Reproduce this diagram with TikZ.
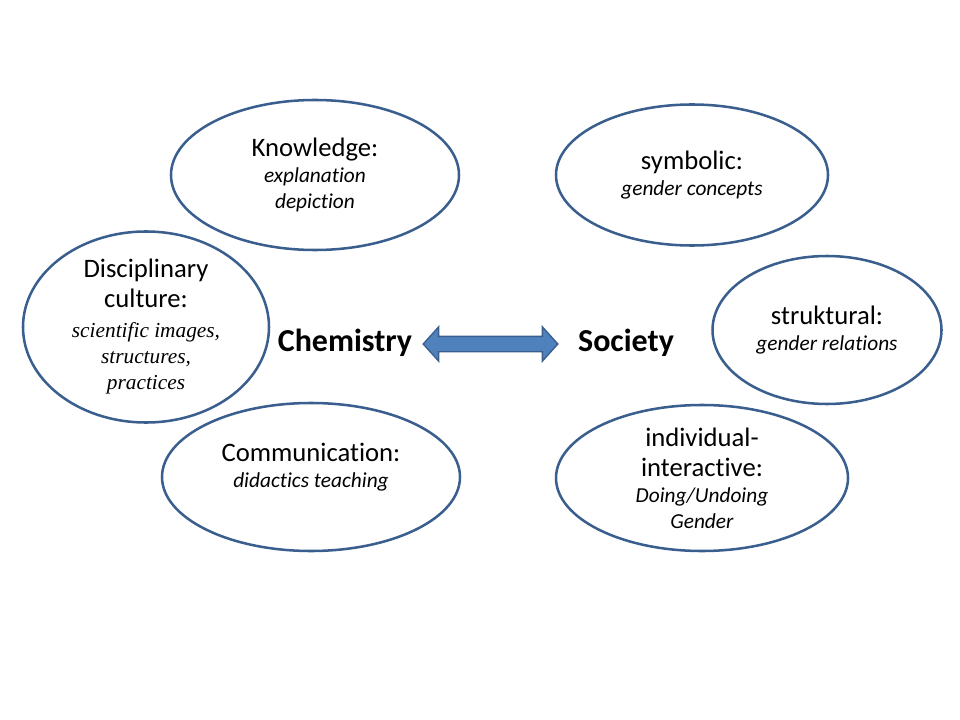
\documentclass[tikz,border=0pt]{standalone}
\usepackage{fontspec}
\setmainfont{Carlito}[Ligatures=NoCommon]
\newfontfamily\serifit{Liberation Serif}
\usepackage{xcolor}
\definecolor{ringblue}{HTML}{3A5F8E}
\definecolor{arrowblue}{HTML}{4F81BD}
\usetikzlibrary{shapes.geometric, shapes.arrows}
\newcommand\hd[1]{{\fontsize{20}{24}\selectfont #1}}
\newcommand\sr[1]{{\serifit\itshape\fontsize{16}{19}\selectfont #1}}

\begin{document}
\begin{tikzpicture}[
    x=0.75pt, y=-0.75pt,
    bubble/.style={
        ellipse, draw=ringblue, line width=1.9pt,
        inner sep=0pt, align=center,
        font=\fontsize{16}{19.5}\selectfont
    },
    big/.style={font=\fontsize{24}{29}\selectfont\bfseries}
]
    \useasboundingbox (0,0) rectangle (960,720);

    % chemistry side
    \node[bubble, minimum width=216pt, minimum height=112.5pt] (know) at (315,175)
        {\hd{Knowledge:}\\ \textit{explanation}\\ \textit{depiction}};
    \node[bubble, minimum width=184.5pt, minimum height=114.75pt] (disc) at (146,327)
        {\hd{Disciplinary}\\[3pt] \hd{culture:}\\[3pt] \sr{scientific images,}\\ \sr{structures,}\\ \sr{practices}};
    \node[bubble, minimum width=223.5pt, minimum height=111pt, text depth=18pt] (comm) at (311,477)
        {\hd{Communication:}\\ \textit{didactics teaching}};

    % society side
    \node[bubble, minimum width=204pt, minimum height=105.75pt] (symb) at (692,175)
        {\hd{symbolic:}\\ \textit{gender concepts}};
    \node[bubble, minimum width=171.75pt, minimum height=111pt] (strk) at (827,330)
        {\hd{struktural:}\\ \textit{gender relations}};
    \node[bubble, minimum width=219pt, minimum height=109.5pt] (indv) at (702,478)
        {\hd{individual-}\\[3pt] \hd{interactive:}\\ \textit{Doing/Undoing}\\ \textit{Gender}};

    \node[big] (chem) at (345,343) {Chemistry};
    \node[big] (soc) at (626,343) {Society};

    \node[double arrow, draw=ringblue, fill=arrowblue, line width=1pt,
          inner xsep=0pt, inner ysep=5.25pt, minimum height=101pt,
          double arrow head extend=7.1pt, double arrow tip angle=96] (link) at (490.5,344) {};
\end{tikzpicture}
\end{document}
